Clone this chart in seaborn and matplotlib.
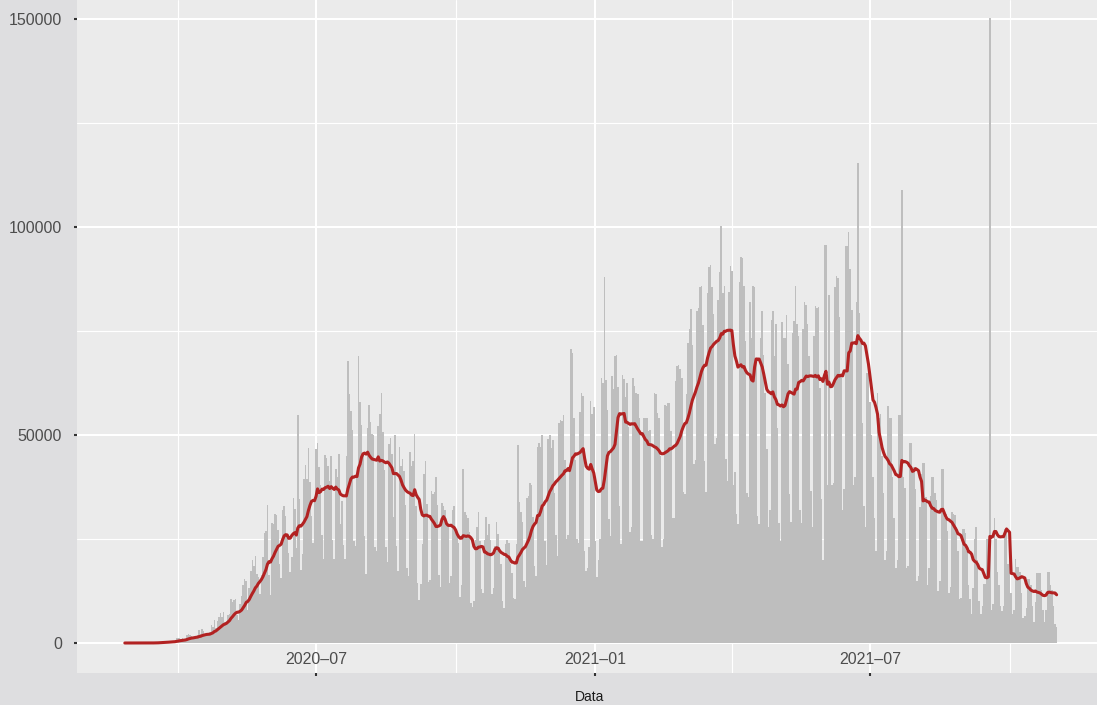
import numpy as np
import pandas as pd
import seaborn as sns
import matplotlib.pyplot as plt
import matplotlib.dates as mdates
from matplotlib.ticker import MultipleLocator

# novos casos diarios, um array por mes
fev_2020 = [1, 0, 0, 1]
mar_2020 = [0, 0, 0, 1, 4, 5, 6, 6, 5, 9, 18, 25, 21, 23, 79, 34, 57, 137, 193, 283, 224,
            418, 345, 310, 232, 482, 502, 487, 352, 323, 1138]
abr_2020 = [1119, 1208, 1012, 1304, 770, 1031, 1873, 2210, 1930, 1781, 1089, 1442, 1261, 1832,
            3058, 2105, 3257, 2917, 1996, 2089, 2336, 2678, 4279, 3735, 5514, 3503, 5385, 6276,
            7218, 6209]
mai_2020 = [7502, 4970, 4588, 6633, 6935, 10503, 9888, 10222, 10611, 6760, 5632, 9258, 11385,
            13944, 15305, 14919, 7938, 13140, 17408, 19951, 18508, 20803, 16508, 15813, 11687,
            16324, 20599, 26417, 26928, 33274, 16409]
jun_2020 = [11598, 28936, 28633, 30925, 30830, 27075, 18912, 15654, 32091, 32913, 30412, 25982,
            21704, 17110, 20647, 34918, 32188, 22765, 54771, 34666, 17459, 21432, 39436, 42725,
            39483, 46860, 38693, 30476, 24052, 33846]
jul_2020 = [46712, 48105, 42223, 37923, 26051, 20229, 45305, 44571, 42619, 39023, 45048, 24831,
            20286, 41857, 39924, 45403, 28532, 34177, 23529, 20257, 44887, 67860, 59961, 55891,
            51147, 24578, 23284, 40816, 69074, 57837, 52383]
ago_2020 = [45392, 25800, 16641, 51603, 57152, 53139, 50230, 49970, 23010, 22048, 52160, 55155,
            60091, 50644, 41576, 23101, 19373, 47784, 49298, 45323, 30355, 50032, 23421, 17264,
            47134, 42659, 44235, 41350, 33274, 18000, 16000]
set_2020 = [45961, 42659, 43773, 50163, 33000, 14521, 10273, 14279, 23803, 40557, 43718, 33523,
            14768, 15155, 36653, 35816, 36303, 39797, 33057, 16389, 13439, 33536, 32817, 31911,
            28378, 28015, 14318, 16000, 32058, 32817]
out_2020 = [27750, 26280, 24062, 11000, 14000, 41900, 31500, 30700, 30000, 26700, 9700, 8600,
            10200, 24800, 28000, 31500, 24600, 13000, 12000, 24800, 30400, 25900, 28600, 24700,
            11700, 13300, 23200, 29000, 26100, 23000, 18900]
nov_2020 = [10100, 8500, 23900, 24800, 24100, 18900, 16900, 10900, 10600, 23900, 47700, 33900,
            31500, 29000, 15000, 13400, 34800, 35300, 38400, 38000, 30200, 18600, 16200, 47000,
            48000, 47200, 50000, 33900, 24500, 18800]
dez_2020 = [49000, 50000, 46900, 48800, 36000, 26000, 20900, 52900, 53500, 53300, 54800, 43900,
            25000, 25900, 42100, 70600, 69800, 54100, 43900, 25000, 24000, 55600, 60200, 59300,
            22000, 17300, 18000, 23000, 58100, 55000, 56800]
jan_2021 = [24600, 15800, 20000, 25000, 63600, 62500, 88100, 63200, 56000, 29800, 25800, 64200,
            61000, 69000, 69200, 61600, 33000, 23700, 64400, 63500, 59100, 62400, 52000, 26800,
            28000, 63600, 61900, 60000, 59800, 54000, 24600]
fev_2021 = [24600, 54000, 54100, 54000, 51000, 51200, 26000, 25000, 60000, 59800, 55200, 54000,
            45000, 23000, 25000, 57200, 57000, 57600, 57600, 51000, 30000, 30000, 63000, 66700,
            66800, 65900, 63600, 36400]
mar_2021 = [35700, 59900, 72000, 75600, 80400, 71700, 43000, 44000, 79900, 80500, 85700, 85900,
            76400, 43800, 36200, 84100, 90300, 90800, 85600, 79100, 47800, 49300, 82500, 89200,
            100200, 84200, 85900, 44300, 38900, 84500, 90600]
abr_2021 = [89500, 37900, 41200, 31000, 28600, 86900, 92700, 92600, 85800, 72600, 36000, 35000,
            82000, 73400, 85800, 85700, 67900, 30600, 28600, 73400, 79700, 69300, 60000, 46600,
            28000, 32000, 77700, 79800, 69000, 76800]
mai_2021 = [51700, 28900, 24600, 77200, 73400, 73300, 78800, 67000, 35800, 29100, 74600, 77400,
            85900, 76800, 73800, 31900, 28900, 75400, 81900, 81300, 76800, 69000, 36500, 27900,
            73700, 80900, 80500, 80800, 61200, 34500, 20000]
jun_2021 = [95700, 95600, 37900, 83700, 53500, 37900, 38400, 85700, 88200, 87800, 78400, 64300,
            32000, 37000, 95400, 95400, 98900, 90000, 80000, 38000, 40000, 82000, 115300, 79300,
            72000, 53000, 33000, 27800, 64800, 65000]
jul_2021 = [58000, 50000, 40000, 30000, 22000, 60000, 54000, 55000, 45000, 36000, 20000, 22000,
            57000, 54000, 54000, 40000, 30000, 18000, 20000, 54800, 54800, 108900, 40000, 37300,
            18000, 18600, 48100, 48100, 41000, 42400, 37000]
ago_2021 = [15000, 16000, 32800, 40700, 43200, 43200, 35000, 14000, 18000, 35300, 40000, 40000,
            36000, 34400, 12500, 15000, 41800, 41800, 30000, 31000, 27000, 12000, 13500, 31400,
            31000, 30800, 27800, 22000, 10500, 10800, 27300]
set_2021 = [27300, 26500, 22000, 14000, 10600, 6900, 13300, 25000, 28000, 20000, 10000, 7000,
            9000, 14300, 14300, 25000, 25000, 150300, 8000, 9300, 30000, 25000, 17000, 14000,
            9000, 7800, 8900, 27300, 27300, 19000]
out_2021 = [20000, 12000, 7000, 8000, 20300, 18300, 18300, 17000, 12000, 6000, 6500, 8300,
            15300, 15300, 14000, 9000, 5000, 9800, 16800, 16800, 16800, 12800, 8000, 5000,
            8000, 17000, 17000, 14000, 12800, 9000, 4500]
nov_2021 = [3800]

meses = [fev_2020, mar_2020, abr_2020, mai_2020, jun_2020, jul_2020, ago_2020, set_2020,
         out_2020, nov_2020, dez_2020, jan_2021, fev_2021, mar_2021, abr_2021, mai_2021,
         jun_2021, jul_2021, ago_2021, set_2021, out_2021, nov_2021]
casos = np.concatenate(meses)
datas = pd.date_range("2020-02-26", periods=len(casos), freq="D")

df = pd.DataFrame({"data": datas, "casos": casos})
# media movel de 14 dias (linha vermelha)
df["media"] = df["casos"].rolling(14, min_periods=1).mean()

sns.set_theme(style="darkgrid")
plt.rcParams["font.family"] = ["Liberation Sans", "DejaVu Sans"]

fig = plt.figure(figsize=(10.97, 7.05), dpi=100, facecolor="#DEDEE0")
ax = fig.add_axes([77 / 1097, 32 / 705, 1020 / 1097, 673 / 705])
ax.set_facecolor("#EBEBEB")

ax.bar(df["data"], df["casos"], width=1.0, color="#BEBEBE", linewidth=0,
       antialiased=False, zorder=2)
sns.lineplot(data=df, x="data", y="media", color="#B22222", linewidth=2.2, ax=ax, zorder=3)

ref = pd.Timestamp("2020-07-01")
ax.set_xlim(ref - pd.Timedelta(days=157.5), ref + pd.Timedelta(days=514.6))
ax.set_ylim(-7212, 154577)

ax.xaxis.set_major_locator(mdates.MonthLocator(bymonth=[1, 7]))
ax.xaxis.set_minor_locator(mdates.MonthLocator(bymonth=[4, 10]))
ax.xaxis.set_major_formatter(mdates.DateFormatter("%Y\u2013%m"))
ax.yaxis.set_major_locator(MultipleLocator(50000))
ax.yaxis.set_minor_locator(MultipleLocator(25000))

ax.grid(which="major", color="white", linewidth=1.5)
ax.grid(which="minor", color="white", linewidth=0.8)
ax.set_axisbelow(True)
for s in ax.spines.values():
    s.set_visible(False)

ax.tick_params(axis="both", which="major", direction="out", length=2.2, width=1.5,
               color="#333333", labelcolor="#4D4D4D", labelsize=11.5)
ax.tick_params(axis="y", which="major", left=True, pad=8.6)
ax.tick_params(axis="x", which="major", bottom=True, pad=-17)
ax.tick_params(which="minor", length=0)

ax.set_ylabel("")
ax.set_xlabel("Data", fontsize=10, color="#1A1A1A")
ax.xaxis.set_label_coords(0.503, -0.026)

fig.savefig("out.png", dpi=100, facecolor=fig.get_facecolor())
